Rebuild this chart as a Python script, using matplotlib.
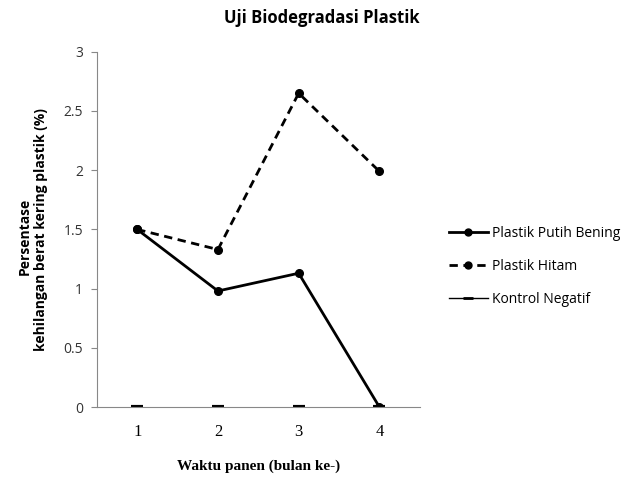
import numpy as np
import matplotlib.pyplot as plt
from matplotlib.lines import Line2D

bulan = [1, 2, 3, 4]
putih_bening = [1.5, 0.98, 1.13, 0.0]
hitam = [1.5, 1.33, 2.65, 1.99]
kontrol = [0, 0, 0, 0]
y_ticks = [0, 0.5, 1, 1.5, 2, 2.5, 3]

sans = 'Open Sans'
serif = 'Liberation Serif'
abu = '#888888'

fig = plt.figure(figsize=(6.37, 4.84), dpi=100)
ax = fig.add_axes([0.152, 0.159, 0.507, 0.734])

ax.plot(bulan, putih_bening, color='black', lw=2, marker='o', ms=5.5, label='Plastik Putih Bening')
ax.plot(bulan, hitam, color='black', lw=2, ls=(0, (3, 2)), marker='o', ms=5.5, label='Plastik Hitam')
ax.plot(bulan, kontrol, ls='none', color='black', marker='_', ms=9, mew=3, zorder=1)

ax.set_xlim(0.5, 4.5)
ax.set_ylim(0, 3)
ax.set_xticks(bulan)
ax.set_xticklabels([str(b) for b in bulan], fontfamily=serif, fontsize=12)
ax.set_yticks(y_ticks)
ax.set_yticklabels(['0', '0.5', '1', '1.5', '2', '2.5', '3'], fontfamily=sans, fontsize=10, color='#333333')
ax.tick_params(axis='x', length=0, pad=12)
ax.tick_params(axis='y', length=4, color=abu, width=0.8, pad=6)

for s in ['top', 'right']:
    ax.spines[s].set_visible(False)
ax.spines['left'].set_color(abu)
ax.spines['bottom'].set_color(abu)

ax.set_xlabel('Waktu panen (bulan ke-)', fontfamily=serif, fontsize=11, fontweight='bold', labelpad=14)

# label sumbu y dua baris, masing-masing rata tengah
fig.text(25 / 637, 1 - 236 / 484, 'Persentase', rotation=90, ha='center', va='center',
         fontfamily=sans, fontsize=10, fontweight='bold')
fig.text(41 / 637, 1 - 230 / 484, 'kehilangan berat kering plastik (%)', rotation=90,
         ha='center', va='center', fontfamily=sans, fontsize=10, fontweight='bold')

fig.text(322 / 637, 1 - 18 / 484, 'Uji Biodegradasi Plastik', ha='center', va='center',
         fontfamily=sans, fontsize=12, fontweight='bold')

handles = [
    Line2D([], [], color='black', lw=2, marker='o', ms=5),
    Line2D([], [], color='black', lw=2, ls=(0, (3, 2)), marker='o', ms=5),
    Line2D([], [], color='black', lw=1, marker='_', ms=7, mew=2),
]
labels = ['Plastik Putih Bening', 'Plastik Hitam', 'Kontrol Negatif']
fig.legend(handles, labels, loc='center left', bbox_to_anchor=(0.685, 0.45), frameon=False,
           prop={'family': sans, 'size': 10}, handlelength=2.8, labelspacing=1.3, handletextpad=0.3)

fig.savefig('out.png', dpi=100)
